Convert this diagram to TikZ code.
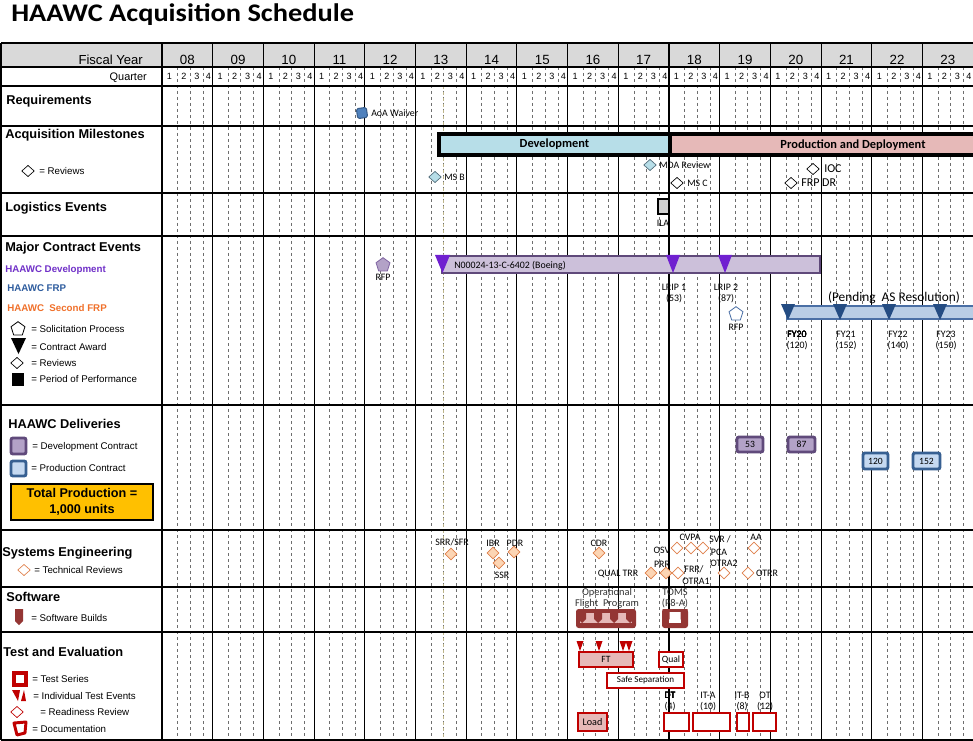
\documentclass[tikz,border=0pt]{standalone}
\usepackage{fontspec}
\setmainfont{Liberation Sans}
\newfontfamily\calfont{Carlito}
\usetikzlibrary{shapes.geometric}

% palette
\definecolor{hdrgray}{HTML}{D9D9D9}
\definecolor{qgray}{HTML}{6E6E6E}
\definecolor{nowcol}{HTML}{BDB58A}
\definecolor{devblue}{HTML}{B7DEE8}
\definecolor{prodpink}{HTML}{E6B9B8}
\definecolor{aoablue}{HTML}{4F81BD}
\definecolor{aoaedge}{HTML}{385D8A}
\definecolor{msfill}{HTML}{B7DEE8}
\definecolor{msedge}{HTML}{4F6A78}
\definecolor{ilagray}{HTML}{D0D0D0}
\definecolor{ctrfill}{HTML}{CCC0DA}
\definecolor{ctredge}{HTML}{5F497A}
\definecolor{awardviolet}{HTML}{7020D0}
\definecolor{rfpfill}{HTML}{B3A2C7}
\definecolor{rfpedge}{HTML}{8064A2}
\definecolor{frpfill}{HTML}{B9CDE5}
\definecolor{frpedge}{HTML}{4A6FA5}
\definecolor{frptri}{HTML}{244C82}
\definecolor{dlvpfill}{HTML}{B3A2C7}
\definecolor{dlvpedge}{HTML}{604A7B}
\definecolor{dlvbfill}{HTML}{C5D9F1}
\definecolor{dlvbedge}{HTML}{376092}
\definecolor{devtext}{HTML}{7030C8}
\definecolor{frptext}{HTML}{2E5C9E}
\definecolor{sfrptext}{HTML}{F0702A}
\definecolor{totyellow}{HTML}{FFC000}
\definecolor{sefill}{HTML}{FCD5B4}
\definecolor{seedge}{HTML}{E0804A}
\definecolor{swdark}{HTML}{943634}
\definecolor{swpink}{HTML}{E6B9B8}
\definecolor{tered}{HTML}{C00000}
\definecolor{tepink}{HTML}{E6B9B8}

\newcommand\fsz[2]{\fontsize{#1}{#2}\selectfont}
% box given by its corners in pixel units: name, style, x1, y1, x2, y2, text
\newcommand\chartbox[7]{\node[#2, minimum width={(#5-#3)*0.75pt}, minimum height={(#6-#4)*0.75pt}] (#1) at ({(#3+#5)/2},{(#4+#6)/2}) {#7};}
% downward triangle: colour, tip x, top y, half width, height
\newcommand\awardtri[5]{\fill[#1] ({#2-#4},#3) -- ({#2+#4},#3) -- (#2,{#3+#5}) -- cycle;}

\begin{document}
\begin{tikzpicture}[x=0.75pt, y=-0.75pt,
  hline/.style={black, line width=1.1pt},
  yline/.style={black, line width=0.8pt},
  qline/.style={qgray, line width=0.45pt, dash pattern=on 2.5pt off 2pt},
  nowline/.style={nowcol, line width=0.6pt, dash pattern=on 2.5pt off 2pt},
  yrlbl/.style={inner sep=0pt, font=\fsz{10}{12}, text height=7.2pt, text depth=0pt},
  qlbl/.style={inner sep=0pt, font=\fsz{6.8}{8}, text height=4.9pt, text depth=0pt},
  sect/.style={anchor=west, inner sep=0pt, font=\bfseries\fsz{9.6}{11}, text height=6.9pt, text depth=0pt},
  leg/.style={anchor=west, inner sep=0pt, font=\fsz{7.3}{8.5}, text height=5.2pt, text depth=0pt},
  legb/.style={leg, font=\bfseries\fsz{7.3}{8.5}},
  lbl/.style={inner sep=0pt, font=\calfont\fsz{7.4}{8.5}, text height=4.8pt, text depth=0pt},
  lblw/.style={lbl, anchor=west},
  biglbl/.style={lblw, font=\calfont\fsz{9}{10}, text height=5.8pt},
  swlbl/.style={lbl, text=black!80, font=\calfont\fsz{7.8}{9}, text height=5pt},
  acqbar/.style={draw=black, line width=2.4pt, inner sep=0pt, font=\calfont\bfseries\fsz{9.3}{11}},
  rev/.style={diamond, draw=black, fill=white, line width=0.5pt, minimum width=9.5pt, minimum height=8.5pt, inner sep=0pt},
  msrev/.style={rev, fill=msfill, draw=msedge},
  terev/.style={rev, draw=seedge, fill=sefill, minimum width=9pt, minimum height=9pt},
  terevw/.style={terev, fill=white},
  pent/.style={regular polygon, regular polygon sides=5, inner sep=0pt, minimum size=11pt, line width=0.6pt},
  dlvp/.style={draw=dlvpedge, fill=dlvpfill, line width=2.2pt, rounded corners=1.5pt, inner sep=0pt, font=\calfont\fsz{7.2}{8}},
  dlvb/.style={dlvp, draw=dlvbedge, fill=dlvbfill},
  tebox/.style={draw=tered, fill=white, line width=2.2pt, inner sep=0pt, font=\calfont\fsz{7.2}{8}},
  tepbox/.style={tebox, fill=tepink}
]
\useasboundingbox (0,0) rectangle (973,741);
\fill[white] (0,0) rectangle (973,741);

% title
\node[anchor=west, inner sep=0pt, font=\calfont\bfseries\fsz{19}{22}, text height=12.2pt, text depth=0pt] (title) at (11,13) {\scalebox{1.12}[1]{HAAWC Acquisition Schedule}};

% ---------- grid ----------
\fill[hdrgray] (1,43) rectangle (973,67);
\foreach \k in {0,...,15}
  \foreach \dx in {15.5,28,41}
    \draw[qline] ({162+50.7*\k+\dx},67) -- ({162+50.7*\k+\dx},740);
\draw[nowline] (443,86) -- (443,740);
\foreach \k in {0,...,15}
  \draw[yline] ({162+50.7*\k},43) -- ({162+50.7*\k},740);
\foreach \y in {43,67,86,126,193,236,405,530,587,632,740}
  \draw[hline] (1,\y) -- (973,\y);
\draw[hline] (1,43) -- (1,740);

% header
\node[anchor=east, inner sep=0pt, font=\fsz{9.8}{11}, text height=7pt, text depth=0pt] (fyhdr) at (143,60) {Fiscal Year};
\node[anchor=east, inner sep=0pt, font=\fsz{8.2}{9}, text height=5.9pt, text depth=0pt] (qhdr) at (147,77) {Quarter};
\foreach \k/\yr in {0/08,1/09,2/10,3/11,4/12,5/13,6/14,7/15,8/16,9/17,10/18,11/19,12/20,13/21,14/22,15/23}
  \node[yrlbl] (yr\yr) at ({162+50.7*\k+25.35},60) {\yr};
\foreach \k in {0,...,15}
  \foreach \q/\dx in {1/7.5,2/22,3/35,4/46.5}
    \node[qlbl] (q\k-\q) at ({162+50.7*\k+\dx},76.5) {\q};

% ---------- left column ----------
\node[sect] (req) at (6,100) {Requirements};
\node[sect] (acq) at (5,134) {Acquisition Milestones};
\node[rev] (lgrev) at (28,171) {};
\node[leg] (lgrevt) at (39,171) {= Reviews};
\node[sect] (logi) at (5,207) {Logistics Events};
\node[sect] (mce) at (5,247) {Major Contract Events};
\node[legb, text=devtext] (lgdev) at (5,269) {HAAWC Development};
\node[legb, text=frptext] (lgfrp) at (7,288) {HAAWC FRP};
\node[legb, text=sfrptext] (lgsfrp) at (7,308) {HAAWC\ \ Second FRP};
\node[pent, draw=black, fill=white] (lgpent) at (18,329) {};
\node[leg] (lgpentt) at (31,329) {= Solicitation Process};
\fill[black] (11,338) -- (26,338) -- (18.5,354) -- cycle;
\node[leg] (lgawdt) at (31,347) {= Contract Award};
\node[rev] (lgrev2) at (17,363) {};
\node[leg] (lgrev2t) at (31,363) {= Reviews};
\fill[black] (12,373) rectangle (24,386);
\node[leg] (lgpopt) at (31,379) {= Period of Performance};

\node[sect] (dlv) at (8,424) {HAAWC Deliveries};
\chartbox{lgdp}{dlvp}{11}{438}{26}{454}{}
\node[leg] (lgdpt) at (32,446) {= Development Contract};
\chartbox{lgdb}{dlvb}{11}{461}{26}{476}{}
\node[leg] (lgdbt) at (31,468) {= Production Contract};
\chartbox{total}{draw=black, fill=totyellow, line width=0.8pt, inner sep=0pt, align=center, font=\bfseries\fsz{9.5}{12}}{11}{484}{153}{520}{Total Production =\\1,000 units}

\node[sect] (se) at (2,552) {Systems Engineering};
\node[rev, draw=seedge] (lgse) at (24,570) {};
\node[leg] (lgset) at (34,570) {= Technical Reviews};

\node[sect] (sw) at (6,597) {Software};
\fill[swdark] (15,609) -- (23,609) -- (23,621) -- (19,625) -- (15,621) -- cycle;
\node[leg] (lgswt) at (31,618) {= Software Builds};

\node[sect] (te) at (3,652) {Test and Evaluation};
\draw[tered, line width=2.3pt] (14,673) rectangle (26,685);
\node[leg] (lgtst) at (32,679) {= Test Series};
\fill[tered] (12,690) -- (20,690) -- (18,701) -- cycle;
\fill[tered] (21,701) -- (26,701) -- (24,690) -- cycle;
\node[leg] (lgtet) at (33,696) {= Individual Test Events};
\node[rev, draw=tered] (lgrr) at (17,712) {};
\node[leg] (lgrrt) at (40,712) {= Readiness Review};
\draw[tered, line width=2.2pt, line join=round] (14,723) -- (26,722) -- (25,733) -- (17,735) -- cycle;
\node[leg] (lgdoct) at (32,729) {= Documentation};

% ---------- requirements ----------
\node[draw=aoaedge, fill=aoablue, line width=0.8pt, rounded corners=1.2pt, minimum size=7.5pt, inner sep=0pt, rotate=8] (aoa) at (362,113) {};
\node[lblw] (aoat) at (371,113) {AoA Waiver};

% ---------- acquisition milestones ----------
\chartbox{dev}{acqbar, fill=devblue}{439}{134}{670}{155}{Development}
\chartbox{prod}{acqbar, fill=prodpink}{670}{134}{992}{155}{}
\node[inner sep=0pt, font=\calfont\bfseries\fsz{9.3}{11}] (prodt) at (853,145) {Production and Deployment};
\node[msrev] (msb) at (435,177) {};
\node[lblw] (msbt) at (444,177) {MS B};
\node[msrev] (mda) at (650,165) {};
\node[lblw] (mdat) at (659,165) {MDA Review};
\node[rev] (msc) at (677,183) {};
\node[lblw] (msct) at (687,183) {MS C};
\node[rev] (ioc) at (813,169) {};
\node[biglbl] (ioct) at (824,169) {IOC};
\node[rev] (frpdr) at (791,183) {};
\node[biglbl] (frpdrt) at (801,183) {FRP DR};

% ---------- logistics ----------
\chartbox{ila}{draw=black, fill=ilagray, line width=2pt, inner sep=0pt}{658}{199}{669}{214}{}
\node[lbl] (ilat) at (663,223) {ILA};

% ---------- major contract events ----------
\node[pent, draw=rfpedge, fill=rfpfill] (rfp1) at (383,265) {};
\node[lbl] (rfp1t) at (383,277) {RFP};
\chartbox{ctr}{draw=ctredge, fill=ctrfill, line width=2.2pt, inner sep=0pt}{442}{256}{820}{273}{}
\node[lblw] (ctrt) at (454,265) {N00024-13-C-6402 (Boeing)};
\awardtri{awardviolet}{442.5}{255}{7.5}{18}
\awardtri{awardviolet}{673}{255}{7}{18}
\awardtri{awardviolet}{725}{255}{7}{18}
\node[lbl] (lrip1) at (674,287) {LRIP 1};
\node[lbl] (lrip1n) at (674,298) {(53)};
\node[lbl] (lrip2) at (726,287) {LRIP 2};
\node[lbl] (lrip2n) at (726,298) {(87)};
\node[pent, draw=frpedge, fill=white] (rfp2) at (736,314) {};
\node[lbl] (rfp2t) at (736,327) {RFP};
\node[inner sep=0pt, font=\calfont\fsz{10}{12}] (pend) at (894,298) {(Pending\ \ AS Resolution)};
\chartbox{frpbar}{draw=frpedge, fill=frpfill, line width=1.5pt, inner sep=0pt}{787}{306}{995}{319}{}
\foreach \x in {788,840,889,940} \awardtri{frptri}{\x}{304}{7}{16}
\node[lbl] (fy20) at (797,334) {FY20};
\node[lbl] (fy20n) at (797,345) {(120)};
\node[lbl] (fy21) at (846,334) {FY21};
\node[lbl] (fy21n) at (846,345) {(152)};
\node[lbl] (fy22) at (898,334) {FY22};
\node[lbl] (fy22n) at (898,345) {(140)};
\node[lbl] (fy23) at (946,334) {FY23};
\node[lbl] (fy23n) at (946,345) {(150)};

% ---------- deliveries ----------
\chartbox{d53}{dlvp}{737}{437}{763}{452}{53}
\chartbox{d87}{dlvp}{788}{437}{815}{452}{87}
\chartbox{d120}{dlvb}{863}{453}{888}{469}{120}
\chartbox{d152}{dlvb}{913}{453}{940}{469}{152}

% ---------- systems engineering ----------
\node[lbl] (srrt) at (452,542) {SRR/SFR};
\node[terev] (srr) at (451,554) {};
\node[lbl] (ibrt) at (493,543) {IBR};
\node[terev] (ibr) at (493,553) {};
\node[lbl] (pdrt) at (515,543) {PDR};
\node[terev] (pdr) at (514,552) {};
\node[terev] (ssr) at (499,563) {};
\node[lbl] (ssrt) at (502,575) {SSR};
\node[lbl] (cdrt) at (599,543) {CDR};
\node[terev] (cdr) at (599,553) {};
\node[lbl] (qtrrt) at (618,573) {QUAL TRR};
\node[terev] (qtrr) at (651,573) {};
\node[lbl] (prrt) at (662,564) {PRR};
\node[terev] (prr) at (666,573) {};
\node[lbl] (osvt) at (662,550) {OSV};
\node[terevw] (osv) at (677,548) {};
\node[lbl] (cvpat) at (690,537) {CVPA};
\node[terevw] (cvpa1) at (691,548) {};
\node[terevw] (cvpa2) at (703,548) {};
\node[lbl] (svrt) at (720,539) {SVR /};
\node[lbl] (pcat) at (719,552) {PCA};
\node[lbl] (aat) at (756,537) {AA};
\node[terevw] (aa) at (754,548) {};
\node[terevw] (frr) at (678,573) {};
\node[lbl] (frrt) at (694,569) {FRR/};
\node[lbl] (otra1t) at (696,581) {OTRA1};
\node[lbl] (otra2t) at (724,563) {OTRA2};
\node[terevw] (otra2) at (724,573) {};
\node[terevw] (otrr) at (748,573) {};
\node[lbl] (otrrt) at (767,573) {OTRR};

% ---------- software ----------
\node[swlbl] (ofp1) at (607,592) {Operational};
\node[swlbl] (ofp2) at (607,603) {Flight\ \ Program};
\node[swlbl] (toms1) at (675,592) {TOMS};
\node[swlbl] (toms2) at (675,603) {(P8-A)};
% operational flight program builds
\fill[swdark, rounded corners=2pt] (576,609) rectangle (636,628);
\fill[swpink] (580,613) rectangle (632,623);
\foreach \x in {582,598,614,630}
  \fill[swdark] ({\x-4},609) -- ({\x+4},609) -- ({\x+4},619) -- (\x,623) -- ({\x-4},619) -- cycle;
% TOMS build
\fill[swdark, rounded corners=2pt] (662,609) rectangle (688,628);
\fill[white] (669,612) rectangle (681,623);
\foreach \x in {666,684}
  \fill[swdark] ({\x-3.5},609) -- ({\x+3.5},609) -- ({\x+3.5},619) -- (\x,623) -- ({\x-3.5},619) -- cycle;

% ---------- test and evaluation ----------
\foreach \x in {580,599,623,629} \awardtri{tered}{\x}{641}{3.5}{10}
\chartbox{ft}{tepbox}{579}{652}{633}{667}{FT}
\chartbox{qual}{tebox}{659}{652}{683}{667}{Qual}
\chartbox{safe}{tebox, font=\calfont\fsz{6.8}{8}}{607}{673}{684}{688}{Safe Separation}
\chartbox{load}{tepbox, font=\calfont\fsz{7.6}{8}}{578}{713}{607}{731}{Load}
\chartbox{dt}{tebox}{664}{713}{689}{731}{}
\chartbox{ita}{tebox}{693}{713}{730}{731}{}
\chartbox{itb}{tebox}{737}{713}{749}{731}{}
\chartbox{ot}{tebox}{753}{713}{776}{731}{}
\node[lbl] (dtt) at (670,695) {DT};
\node[lbl] (dtn) at (670,706) {(4)};
\node[lbl] (itat) at (708,695) {IT-A};
\node[lbl] (itan) at (708,706) {(10)};
\node[lbl] (itbt) at (742,695) {IT-B};
\node[lbl] (itbn) at (742,706) {(8)};
\node[lbl] (ott) at (765,695) {OT};
\node[lbl] (otn) at (765,706) {(12)};
\end{tikzpicture}
\end{document}
